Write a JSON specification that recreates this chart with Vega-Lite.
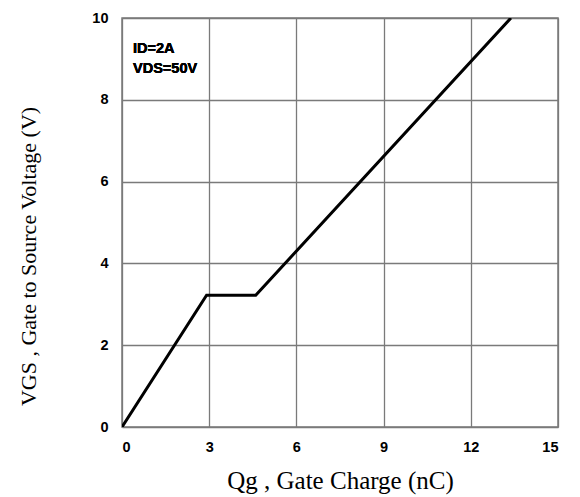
{
  "$schema": "https://vega.github.io/schema/vega-lite/v6.json",
  "width": 436,
  "height": 409,
  "autosize": {"type": "none"},
  "padding": {"left": 122, "top": 18, "right": 22, "bottom": 70},
  "background": "white",
  "config": {
    "view": {"stroke": "#7a7a7a", "strokeWidth": 1.5},
    "axis": {
      "grid": true,
      "gridColor": "#7a7a7a",
      "gridOpacity": 1,
      "gridWidth": 1.3,
      "domain": false,
      "ticks": false,
      "labelFont": "Liberation Sans",
      "labelFontWeight": "bold",
      "labelFontSize": 14.5,
      "labelColor": "black",
      "titleFont": "Liberation Serif",
      "titleFontWeight": "normal",
      "titleFontSize": 23,
      "titleColor": "black"
    }
  },
  "data": {
    "values": [
      {"q": 0, "v": 0},
      {"q": 2.91, "v": 3.22},
      {"q": 4.6, "v": 3.22},
      {"q": 13.38, "v": 10}
    ]
  },
  "layer": [
    {
      "mark": {"type": "line", "color": "black", "strokeWidth": 3, "strokeJoin": "miter", "clip": true},
      "encoding": {
        "x": {
          "field": "q",
          "type": "quantitative",
          "scale": {"domain": [0, 15], "nice": false},
          "axis": {
            "values": [0, 3, 6, 9, 12, 15],
            "labelPadding": 13,
            "title": "Qg , Gate Charge (nC)",
            "titleFontSize": 25,
            "titleX": 218,
            "titleY": 61,
            "titleBaseline": "alphabetic",
            "titleAlign": "center"
          }
        },
        "y": {
          "field": "v",
          "type": "quantitative",
          "scale": {"domain": [0, 10], "nice": false},
          "axis": {
            "values": [0, 2, 4, 6, 8, 10],
            "labelPadding": 14,
            "title": "VGS , Gate to Source Voltage (V)",
            "titleFontSize": 22,
            "titleX": -87,
            "titleY": 238,
            "titleAngle": -90,
            "titleBaseline": "alphabetic",
            "titleAlign": "center"
          }
        }
      }
    },
    {
      "mark": {
        "type": "text",
        "font": "Liberation Sans",
        "fontWeight": "bold",
        "fontSize": 14.5,
        "align": "left",
        "baseline": "alphabetic",
        "lineBreak": "\n",
        "lineHeight": 20,
        "color": "black",
        "text": "ID=2A\nVDS=50V"
      },
      "encoding": {
        "x": {"datum": 0.38, "type": "quantitative"},
        "y": {"datum": 9.14, "type": "quantitative"}
      }
    }
  ]
}
